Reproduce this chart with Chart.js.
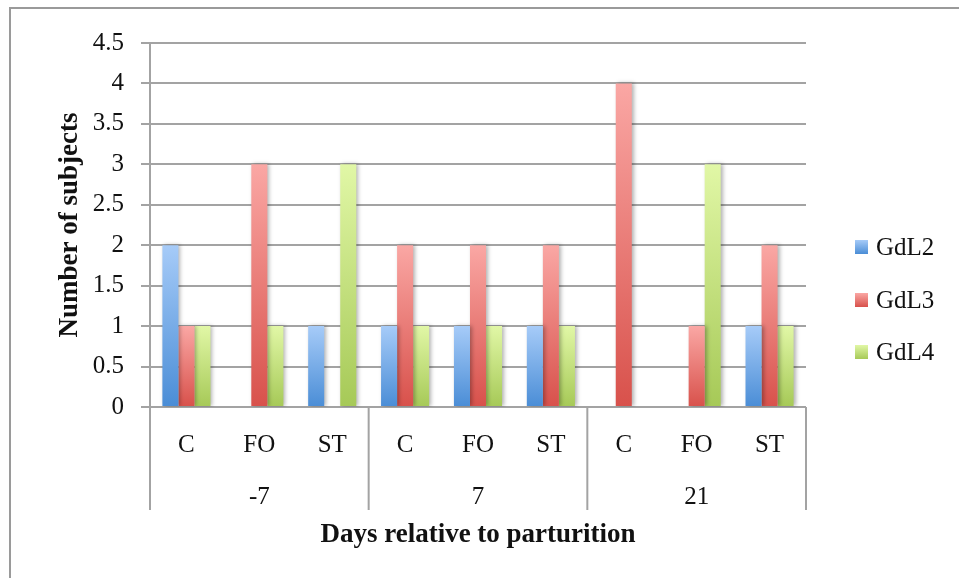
<!DOCTYPE html>
<html>
<head>
<meta charset="utf-8">
<script src="https://cdn.jsdelivr.net/npm/chart.js@4/dist/chart.umd.min.js"></script>
<style>
  html, body { margin: 0; padding: 0; background: #fff; }
  #wrap { width: 959px; height: 578px; }
</style>
</head>
<body>
<div id="wrap"><canvas id="c" width="959" height="578"></canvas></div>
<script>
// Sub-groups along the x axis, and the day groups they belong to
const subLabels = ['C', 'FO', 'ST', 'C', 'FO', 'ST', 'C', 'FO', 'ST'];
const groupLabels = ['-7', '7', '21'];
const groupSize = 3;

// Number of subjects per grade
const seriesNames = ['GdL2', 'GdL3', 'GdL4'];
const gdl2 = [2, 0, 1, 1, 1, 1, 0, 0, 1];
const gdl3 = [1, 3, 0, 2, 2, 2, 4, 1, 2];
const gdl4 = [1, 1, 3, 1, 1, 1, 0, 3, 1];

const yMax = 4.5;
const yStep = 0.5;

// Light (top) and dark (bottom) shades of each series' gradient
const shades = [
  ['#a6cbf8', '#4a8dd6'],
  ['#faa7a4', '#d8514b'],
  ['#e1f7a6', '#a6c957']
];

const FONT = "'Liberation Serif', 'Times New Roman', serif";
const GRID = '#a3a3a3';
const INK = '#111';

function barFill(idx) {
  const [light, dark] = shades[idx];
  return (ctx) => {
    const chart = ctx.chart;
    const y = chart.scales && chart.scales.y;
    if (!y || ctx.type !== 'data' || !chart.chartArea) return dark;
    const y0 = y.getPixelForValue(0);
    const y1 = y.getPixelForValue(ctx.raw);
    if (!isFinite(y0) || !isFinite(y1) || y0 === y1) return dark;
    const g = chart.ctx.createLinearGradient(0, y1, 0, y0);
    g.addColorStop(0, light);
    g.addColorStop(1, dark);
    return g;
  };
}

// Outer frame, bar shadows, group separators, group labels and legend
const decorations = {
  id: 'decorations',
  beforeDraw(chart) {
    const c = chart.ctx;
    c.save();
    c.strokeStyle = '#9a9a9a';
    c.lineWidth = 2;
    c.beginPath();
    c.moveTo(10, chart.height);
    c.lineTo(10, 8);
    c.lineTo(chart.width, 8);
    c.stroke();
    c.restore();
  },
  beforeDatasetsDraw(chart) {
    const c = chart.ctx;
    c.save();
    c.shadowColor = 'rgba(0,0,0,0.3)';
    c.shadowBlur = 4;
    c.shadowOffsetX = 2;
    c.shadowOffsetY = 0;
  },
  afterDatasetsDraw(chart) {
    chart.ctx.restore();
  },
  afterDraw(chart) {
    const c = chart.ctx;
    const x = chart.scales.x;
    const area = chart.chartArea;
    const step = (x.getPixelForValue(1) - x.getPixelForValue(0));
    const lineBottom = area.bottom + 103;
    c.save();
    c.strokeStyle = GRID;
    c.lineWidth = 2;
    // separators between day groups
    for (let g = 0; g <= groupLabels.length; g++) {
      const px = g < groupLabels.length
        ? x.getPixelForValue(g * groupSize) - step / 2
        : x.getPixelForValue(groupLabels.length * groupSize - 1) + step / 2;
      c.beginPath();
      c.moveTo(px, area.bottom);
      c.lineTo(px, lineBottom);
      c.stroke();
    }
    // day group labels
    c.fillStyle = INK;
    c.font = "25px " + FONT;
    c.textAlign = 'center';
    c.textBaseline = 'middle';
    groupLabels.forEach((lab, g) => {
      const mid = x.getPixelForValue(g * groupSize + (groupSize - 1) / 2);
      c.fillText(lab, mid, area.bottom + 90);
    });
    // legend
    const rowY = [247, 300, 352];
    chart.data.datasets.forEach((ds, i) => {
      const cy = rowY[i];
      const g = c.createLinearGradient(0, cy - 7, 0, cy + 7);
      g.addColorStop(0, shades[i][0]);
      g.addColorStop(1, shades[i][1]);
      c.fillStyle = g;
      c.fillRect(855, cy - 7, 13, 14);
      c.fillStyle = INK;
      c.textAlign = 'left';
      c.textBaseline = 'middle';
      c.fillText(ds.label, 876, cy + 1);
    });
    c.restore();
  }
};

new Chart(document.getElementById('c'), {
  type: 'bar',
  data: {
    labels: subLabels,
    datasets: [
      { label: seriesNames[0], data: gdl2, backgroundColor: barFill(0) },
      { label: seriesNames[1], data: gdl3, backgroundColor: barFill(1) },
      { label: seriesNames[2], data: gdl4, backgroundColor: barFill(2) }
    ]
  },
  options: {
    responsive: false,
    animation: false,
    devicePixelRatio: 1,
    layout: { padding: { left: 50, top: 43, right: 153, bottom: 23 } },
    datasets: { bar: { categoryPercentage: 0.66, barPercentage: 1.0, borderWidth: 0 } },
    plugins: {
      legend: { display: false },
      tooltip: { enabled: false }
    },
    scales: {
      x: {
        grid: { display: false, drawTicks: false },
        border: { display: false },
        ticks: { color: INK, font: { family: FONT, size: 25 }, padding: 23, maxRotation: 0, autoSkip: false },
        title: { display: true, text: 'Days relative to parturition', color: INK, font: { family: FONT, size: 27, weight: 'bold' } },
        afterFit(scale) { scale.height = 148; }
      },
      y: {
        min: 0,
        max: yMax,
        ticks: { stepSize: yStep, color: INK, font: { family: FONT, size: 25 }, padding: 17,
                 callback: (v) => String(v) },
        grid: { color: GRID, lineWidth: 2, tickLength: 9 },
        border: { display: true, color: GRID, width: 2 },
        title: { display: true, text: 'Number of subjects', color: INK, font: { family: FONT, size: 27, weight: 'bold' } },
        afterFit(scale) { scale.width = 100; }
      }
    }
  },
  plugins: [decorations]
});
</script>
</body>
</html>
